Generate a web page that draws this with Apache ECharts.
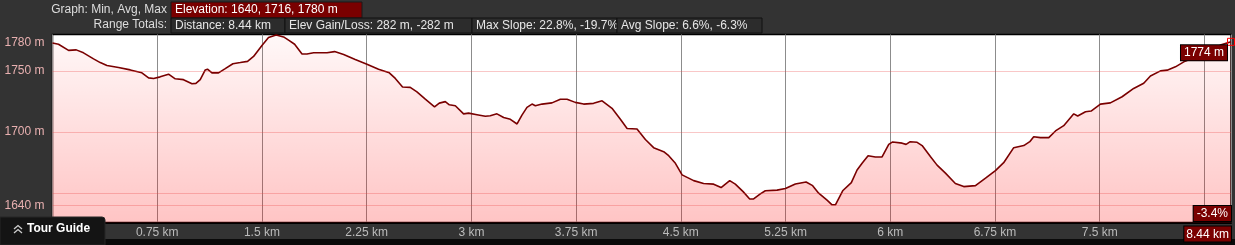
<!DOCTYPE html>
<html>
<head>
<meta charset="utf-8">
<style>
  html, body { margin: 0; padding: 0; background: #333333; }
  #chart { width: 1235px; height: 245px; }
</style>
<script src="https://cdn.jsdelivr.net/npm/echarts@6/dist/echarts.min.js"></script>
</head>
<body>
<div id="chart"></div>
<script>
// ---- data ----
const DIST = [0, 0.043, 0.115, 0.170, 0.222, 0.294, 0.342, 0.390, 0.473, 0.557, 0.640, 0.688, 0.724, 0.771, 0.831, 0.879, 0.938, 0.999, 1.027, 1.058, 1.094, 1.110, 1.142, 1.189, 1.237, 1.292, 1.345, 1.397, 1.440, 1.500, 1.547, 1.602, 1.655, 1.696, 1.734, 1.787, 1.822, 1.870, 1.966, 2.020, 2.085, 2.168, 2.252, 2.335, 2.412, 2.455, 2.507, 2.562, 2.610, 2.670, 2.736, 2.770, 2.813, 2.842, 2.885, 2.944, 2.980, 3.040, 3.100, 3.135, 3.183, 3.231, 3.279, 3.327, 3.362, 3.398, 3.434, 3.458, 3.506, 3.577, 3.637, 3.685, 3.744, 3.804, 3.875, 3.936, 4.007, 4.067, 4.115, 4.186, 4.246, 4.305, 4.377, 4.413, 4.461, 4.509, 4.592, 4.663, 4.735, 4.788, 4.850, 4.890, 4.946, 4.993, 5.021, 5.069, 5.105, 5.189, 5.249, 5.320, 5.397, 5.444, 5.487, 5.547, 5.583, 5.607, 5.659, 5.721, 5.762, 5.798, 5.841, 5.893, 5.941, 5.989, 6.017, 6.085, 6.113, 6.143, 6.192, 6.228, 6.287, 6.335, 6.395, 6.466, 6.526, 6.610, 6.682, 6.753, 6.812, 6.884, 6.956, 6.999, 7.027, 7.075, 7.135, 7.183, 7.242, 7.314, 7.342, 7.398, 7.438, 7.505, 7.576, 7.660, 7.743, 7.815, 7.863, 7.935, 7.983, 8.042, 8.102, 8.198, 8.293, 8.364, 8.44];
const ELEV = [1773, 1772, 1767, 1767.4, 1765, 1760, 1757, 1754.6, 1753, 1751, 1748.6, 1744.5, 1744, 1745.3, 1747.5, 1743.7, 1743, 1739.6, 1740, 1743, 1751, 1751.6, 1748.6, 1748.6, 1752, 1756, 1757, 1758, 1762, 1771, 1777.5, 1779.6, 1778, 1775, 1772, 1764, 1764, 1765, 1765, 1766, 1763.6, 1759.5, 1755.7, 1751.6, 1748.6, 1744, 1737, 1736.7, 1733, 1727, 1720.8, 1723.8, 1725, 1722.4, 1721.6, 1715, 1715.6, 1714.3, 1713, 1713.5, 1715, 1712, 1710.5, 1706.7, 1714, 1720.3, 1723, 1721.6, 1723, 1724, 1727, 1727, 1724.4, 1723, 1723.6, 1725.7, 1719.5, 1710.5, 1703, 1702.6, 1694, 1687.3, 1684, 1680.7, 1674.5, 1665, 1660.3, 1658, 1657.4, 1654.6, 1660.3, 1657.4, 1651.3, 1645.3, 1645.3, 1649.4, 1652, 1652.5, 1653.8, 1657.6, 1659.2, 1656.2, 1650, 1644.3, 1640.5, 1640.5, 1652, 1658.7, 1669, 1674.5, 1680.7, 1679.7, 1679.7, 1690, 1692, 1691, 1690, 1692.2, 1691.7, 1689, 1680, 1673, 1666.4, 1658, 1655.4, 1656.2, 1662.3, 1668.5, 1675, 1687.3, 1689, 1692.2, 1696.3, 1695.5, 1695.5, 1701, 1705.3, 1715, 1713.2, 1716.7, 1717.3, 1723, 1724, 1729, 1735.8, 1740, 1746, 1750.2, 1750.8, 1753.5, 1757.6, 1762, 1767.7, 1771.3, 1774];

const X_MIN = 0, X_MAX = 8.44, X_INTERVAL = 0.75;
const Y_MIN = 1626, Y_MAX = 1780, Y_INTERVAL = 2;
const Y_LABELS = [1640, 1700, 1750, 1780];
const Y_GRIDLINES = [1640, 1650, 1700, 1750];

const HEADER_ROW1_LABEL = 'Graph: Min, Avg, Max';
const HEADER_ROW1_BOX = 'Elevation: 1640, 1716, 1780 m';
const HEADER_ROW2_LABEL = 'Range Totals:';
const HEADER_ROW2_BOXES = ['Distance: 8.44 km', 'Elev Gain/Loss: 282 m, -282 m', 'Max Slope: 22.8%, -19.7%', 'Avg Slope: 6.6%, -6.3%'];
const END_LABEL = '1774 m';
const SLOPE_LABEL = '-3.4%';
const TOUR_GUIDE = 'Tour Guide';

// ---- layout / style ----
const FONT = '"Liberation Sans", Arial, sans-serif';
const DARK_RED = '#7a0000';
const row2Boxes = [[171, 114], [285, 187], [472, 145], [617, 145]];

const graphics = [
  { type: 'text', right: 1235 - 167, top: 4, style: { text: HEADER_ROW1_LABEL, fill: '#dddddd', font: '12px ' + FONT } },
  { type: 'rect', shape: { x: 171, y: 2, width: 191, height: 16 }, style: { fill: DARK_RED, stroke: '#1a1a1a', lineWidth: 1 } },
  { type: 'text', x: 175, y: 4, style: { text: HEADER_ROW1_BOX, fill: '#ffffff', font: '12px ' + FONT } },
  { type: 'text', right: 1235 - 167, top: 19, style: { text: HEADER_ROW2_LABEL, fill: '#dddddd', font: '12px ' + FONT } }
];
HEADER_ROW2_BOXES.forEach((t, i) => {
  graphics.push({ type: 'rect', shape: { x: row2Boxes[i][0], y: 18, width: row2Boxes[i][1], height: 15 }, style: { fill: '#2c2c2c', stroke: '#111111', lineWidth: 1 } });
  graphics.push({ type: 'text', x: row2Boxes[i][0] + 4, y: 19.5, style: { text: t, fill: '#e6e6e6', font: '12px ' + FONT } });
});
// bottom black strip
graphics.push({ type: 'rect', z: -10, shape: { x: 0, y: 239, width: 1235, height: 6 }, style: { fill: '#0a0a0a' } });
// Tour guide tab
graphics.push({ type: 'rect', z: 100, shape: { x: 0, y: 217, width: 105, height: 28, r: [0, 3, 0, 0] }, style: { fill: '#141414', stroke: '#262626', lineWidth: 1 } });
graphics.push({ type: 'polyline', z: 101, shape: { points: [[14, 229], [18, 225.5], [22, 229]] }, style: { stroke: '#cfcfcf', lineWidth: 1.3, fill: null } });
graphics.push({ type: 'polyline', z: 101, shape: { points: [[14, 233], [18, 229.5], [22, 233]] }, style: { stroke: '#cfcfcf', lineWidth: 1.3, fill: null } });
graphics.push({ type: 'text', z: 101, x: 27, y: 223, style: { text: TOUR_GUIDE, fill: '#ffffff', font: 'bold 12px ' + FONT } });
// slope readout
graphics.push({ type: 'text', z: 50, right: 3, top: 205, style: { text: SLOPE_LABEL, fill: '#ffffff', font: '12px ' + FONT, backgroundColor: DARK_RED, borderColor: '#000', borderWidth: 1, padding: [2, 3, 1, 3] } });

const chart = echarts.init(document.getElementById('chart'), null, { renderer: 'canvas' });
chart.setOption({
  backgroundColor: '#333333',
  animation: false,
  grid: { left: 52.5, right: 4, top: 34.5, bottom: 22.5, show: true, backgroundColor: '#ffffff', borderColor: '#000000', borderWidth: 1.5 },
  graphic: graphics,
  xAxis: {
    type: 'value', min: X_MIN, max: X_MAX, interval: X_INTERVAL,
    axisLine: { show: true, lineStyle: { color: '#000', width: 2 } },
    axisTick: { show: false },
    splitLine: { show: true, lineStyle: { color: '#8c8c8c', width: 1 } },
    axisLabel: {
      color: '#bbbbbb', fontFamily: FONT, fontSize: 12, margin: 4,
      showMinLabel: true, showMaxLabel: true, alignMaxLabel: 'right',
      formatter: v => {
        if (v === X_MIN) return '';
        if (Math.abs(v - X_MAX) < 1e-6) return '{box|' + X_MAX + ' km}';
        return (+v.toFixed(2)) + ' km';
      },
      rich: { box: { color: '#ffffff', fontFamily: FONT, fontSize: 12, backgroundColor: DARK_RED, borderColor: '#000', borderWidth: 1, padding: [2, 2, 1, 2] } }
    }
  },
  yAxis: {
    type: 'value', min: Y_MIN, max: Y_MAX, interval: Y_INTERVAL,
    axisLine: { show: false }, axisTick: { show: false }, splitLine: { show: false },
    axisLabel: {
      color: '#e8b0b0', fontFamily: FONT, fontSize: 12, margin: 8,
      showMaxLabel: true,
      formatter: v => {
        if (!Y_LABELS.includes(v)) return '';
        if (v === Y_MAX) return '{top|' + v + ' m}';
        return v + ' m';
      },
      rich: { top: { color: '#e8b0b0', fontFamily: FONT, fontSize: 12, padding: [17, 0, 0, 0] } }
    }
  },
  series: [{
    type: 'line',
    data: DIST.map((d, i) => [d, ELEV[i]]),
    showSymbol: false,
    smooth: false,
    lineStyle: { color: DARK_RED, width: 1.6 },
    areaStyle: {
      color: new echarts.graphic.LinearGradient(0, 0, 0, 1, [
        { offset: 0, color: 'rgba(255,0,0,0.04)' },
        { offset: 1, color: 'rgba(255,0,0,0.33)' }
      ])
    },
    markLine: {
      silent: true, symbol: 'none', label: { show: false },
      lineStyle: { color: 'rgba(235,70,70,0.3)', width: 1, type: 'solid' },
      data: Y_GRIDLINES.map(v => ({ yAxis: v }))
    },
    markPoint: {
      silent: true,
      data: [{ coord: [DIST[DIST.length - 1], ELEV[ELEV.length - 1]] }],
      symbol: 'rect', symbolSize: 7,
      itemStyle: { color: 'rgba(0,0,0,0)', borderColor: '#ff0000', borderWidth: 1 },
      label: {
        show: true, position: 'inside', offset: [-27, 11], formatter: END_LABEL,
        color: '#ffffff', fontFamily: FONT, fontSize: 12,
        backgroundColor: DARK_RED, borderColor: '#000', borderWidth: 1, padding: [2, 3, 1, 3]
      }
    }
  }]
});
</script>
</body>
</html>
